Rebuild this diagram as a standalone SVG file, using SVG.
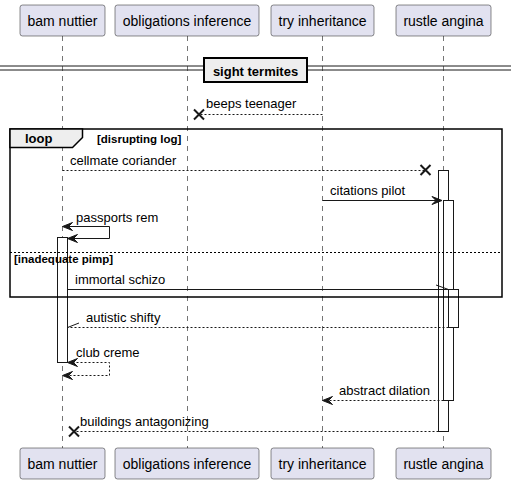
<svg xmlns="http://www.w3.org/2000/svg" width="517" height="484" viewBox="0 0 517 484">
<style>
  .pbox{fill:#E2E2F0;stroke:#181818;stroke-width:0.5}
  .ptxt{font-family:"Liberation Sans",Arial,sans-serif;font-size:14px;fill:#000;text-anchor:middle}
  .life{stroke:#181818;stroke-width:0.6;stroke-dasharray:5,5;fill:none}
  .act{fill:#FFFFFF;stroke:#181818;stroke-width:1}
  .msg{stroke:#181818;stroke-width:1;fill:none}
  .dash{stroke-dasharray:2,2}
  .mtxt{font-family:"Liberation Sans",Arial,sans-serif;font-size:13px;fill:#000}
  .btxt{font-family:"Liberation Sans",Arial,sans-serif;font-weight:bold;fill:#000}
  .head{fill:#181818;stroke:#181818;stroke-width:1}
  .x{stroke:#181818;stroke-width:2}
</style>
<g id="lifelines">
  <line class="life" x1="62.5" y1="36" x2="62.5" y2="448"/>
  <line class="life" x1="187.5" y1="36" x2="187.5" y2="448"/>
  <line class="life" x1="322.5" y1="36" x2="322.5" y2="448"/>
  <line class="life" x1="443.5" y1="36" x2="443.5" y2="448"/>
</g>
<g id="p-bam">
  <rect class="pbox" x="20" y="5" width="85" height="31" rx="2.5"/>
  <text class="ptxt" x="62.5" y="26">bam nuttier</text>
  <rect class="pbox" x="20" y="448" width="85" height="31" rx="2.5"/>
  <text class="ptxt" x="62.5" y="469">bam nuttier</text>
</g>
<g id="p-obl">
  <rect class="pbox" x="115" y="5" width="144" height="31" rx="2.5"/>
  <text class="ptxt" x="187" y="26">obligations inference</text>
  <rect class="pbox" x="115" y="448" width="144" height="31" rx="2.5"/>
  <text class="ptxt" x="187" y="469">obligations inference</text>
</g>
<g id="p-try">
  <rect class="pbox" x="271" y="5" width="103" height="31" rx="2.5"/>
  <text class="ptxt" x="322.5" y="26">try inheritance</text>
  <rect class="pbox" x="271" y="448" width="103" height="31" rx="2.5"/>
  <text class="ptxt" x="322.5" y="469">try inheritance</text>
</g>
<g id="p-rustle">
  <rect class="pbox" x="396" y="5" width="95" height="31" rx="2.5"/>
  <text class="ptxt" x="443.5" y="26">rustle angina</text>
  <rect class="pbox" x="396" y="448" width="95" height="31" rx="2.5"/>
  <text class="ptxt" x="443.5" y="469">rustle angina</text>
</g>
<g id="divider">
  <line x1="0" y1="66" x2="203" y2="66" stroke="#181818" stroke-width="1"/>
  <line x1="0" y1="70" x2="203" y2="70" stroke="#181818" stroke-width="1"/>
  <line x1="307" y1="66" x2="511" y2="66" stroke="#181818" stroke-width="1"/>
  <line x1="307" y1="70" x2="511" y2="70" stroke="#181818" stroke-width="1"/>
  <rect x="204" y="58" width="103" height="24" fill="#EEEEEE" stroke="#000" stroke-width="2"/>
  <text class="btxt" x="255.5" y="75.5" font-size="13" text-anchor="middle">sight termites</text>
</g>
<g id="activations">
  <rect class="act" x="57.5" y="237.5" width="10" height="125"/>
  <rect class="act" x="438.5" y="170.5" width="10" height="261"/>
  <rect class="act" x="443.5" y="200.5" width="10" height="200"/>
  <rect class="act" x="448.5" y="289.5" width="10" height="38"/>
</g>
<g id="loop-frame">
  <rect x="10" y="129" width="492" height="168" fill="none" stroke="#000" stroke-width="1.5"/>
  <path d="M10,129 H82.5 V137.5 L72.5,147.5 H10 Z" fill="#EEEEEE" stroke="#000" stroke-width="1.5"/>
  <text class="btxt" x="25" y="143" font-size="13">loop</text>
  <text class="btxt" x="97" y="143" font-size="11.5">[disrupting log]</text>
  <line x1="10" y1="252.5" x2="502" y2="252.5" stroke="#000" stroke-width="1" stroke-dasharray="2,2"/>
  <text class="btxt" x="14" y="263" font-size="11.5">[inadequate pimp]</text>
</g>
<g id="connectors">
  <line class="msg dash" x1="322.5" y1="114.5" x2="199" y2="114.5"/>
  <path class="x" d="M194,109.5 L204,119.5 M194,119.5 L204,109.5"/>
  <text class="mtxt" x="206" y="108">beeps teenager</text>

  <line class="msg dash" x1="62.5" y1="170.5" x2="425" y2="170.5"/>
  <path class="x" d="M420.5,165 L430.5,175 M420.5,175 L430.5,165"/>
  <text class="mtxt" x="70" y="165">cellmate coriander</text>

  <line class="msg" x1="322.5" y1="200.5" x2="440" y2="200.5"/>
  <polygon class="head" points="442,200.5 432,196.5 436,200.5 432,204.5"/>
  <text class="mtxt" x="330" y="195">citations pilot</text>

  <polyline class="msg" points="63.5,226.5 109.5,226.5 109.5,238.5 68.5,238.5"/>
  <polygon class="head" points="62.5,226.5 72.5,222.5 68.5,226.5 72.5,230.5"/>
  <polygon class="head" points="67.5,238.5 77.5,234.5 73.5,238.5 77.5,242.5"/>
  <text class="mtxt" x="76" y="221.5">passports rem</text>

  <line class="msg" x1="67.5" y1="289.5" x2="448.5" y2="289.5"/>
  <line class="msg" x1="436" y1="285" x2="448.5" y2="289.5"/>
  <text class="mtxt" x="75" y="284">immortal schizo</text>

  <line class="msg dash" x1="448.5" y1="327.5" x2="67.5" y2="327.5"/>
  <line class="msg" x1="67.5" y1="327.5" x2="79" y2="323"/>
  <text class="mtxt" x="86" y="322">autistic shifty</text>

  <polyline class="msg dash" points="68.5,362.5 109.5,362.5 109.5,375.5 63.5,375.5"/>
  <polygon class="head" points="67.5,362.5 77.5,358.5 73.5,362.5 77.5,366.5"/>
  <polygon class="head" points="62.5,375.5 72.5,371.5 68.5,375.5 72.5,379.5"/>
  <text class="mtxt" x="76" y="357">club creme</text>

  <line class="msg dash" x1="443.5" y1="400.5" x2="324" y2="400.5"/>
  <polygon class="head" points="322.5,400.5 332.5,396.5 328.5,400.5 332.5,404.5"/>
  <text class="mtxt" x="339" y="395">abstract dilation</text>

  <line class="msg dash" x1="438.5" y1="431.5" x2="74" y2="431.5"/>
  <path class="x" d="M69,426.5 L79,436.5 M69,436.5 L79,426.5"/>
  <text class="mtxt" x="80" y="425.5">buildings antagonizing</text>
</g>
</svg>
